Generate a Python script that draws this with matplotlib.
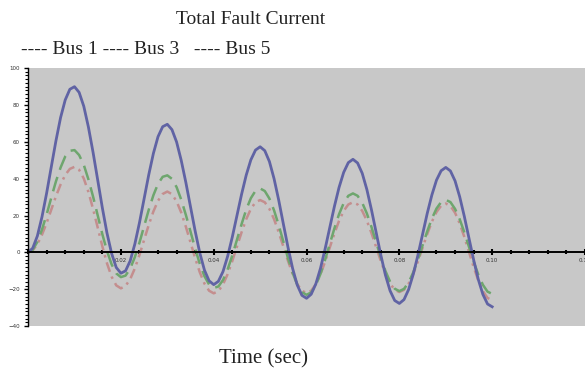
import numpy as np
import matplotlib.pyplot as plt
from matplotlib.ticker import MultipleLocator

time = np.round(np.arange(101) * 0.001, 3)

bus1 = [0, 2.3, 8.9, 19.3, 32.2, 46.4, 60.5, 73.1, 82.7, 88.5,
        89.9, 86.8, 79.3, 68.0, 54.3, 39.3, 24.2, 10.5, -0.6, -8.2,
        -11.3, -10.0, -4.6, 4.5, 16.1, 29.1, 42.1, 53.7, 62.8, 68.2,
        69.5, 66.6, 59.9, 49.9, 37.9, 24.7, 11.6, -0.3, -9.6, -15.4,
        -17.5, -15.7, -10.4, -2.1, 8.3, 19.9, 31.5, 41.9, 50.2, 55.5,
        57.3, 55.2, 49.3, 40.0, 28.4, 15.5, 2.8, -8.7, -17.7, -23.3,
        -24.9, -22.7, -17.1, -8.7, 1.9, 13.4, 24.9, 35.2, 43.4, 48.7,
        50.5, 48.5, 42.9, 34.1, 23.0, 10.8, -1.4, -12.3, -20.8, -26.1,
        -27.7, -25.6, -20.1, -11.8, -1.5, 9.8, 21.1, 31.1, 39.2, 44.3,
        46.1, 44.2, 38.8, 30.2, 19.5, 7.7, -4.0, -14.6, -22.8, -28.0,
        -29.5]

bus3 = [0, 1.4, 5.7, 12.4, 20.6, 29.7, 38.5, 46.0, 52.0, 55.1,
        55.5, 52.8, 47.5, 39.6, 30.3, 20.1, 9.9, 0.8, -6.5, -11.4,
        -13.4, -12.6, -8.8, -2.6, 5.3, 14.2, 23.1, 31.0, 37.2, 41.0,
        41.8, 39.9, 35.4, 28.6, 20.3, 11.3, 2.1, -6.2, -12.9, -17.4,
        -19.3, -18.5, -15.0, -9.2, -1.7, 6.8, 15.3, 23.2, 29.4, 33.4,
        34.7, 33.3, 29.2, 22.8, 14.8, 5.9, -3.1, -11.1, -17.5, -21.6,
        -23.0, -21.7, -17.7, -11.7, -4.0, 4.5, 13.0, 20.7, 26.7, 30.7,
        32.0, 30.7, 26.9, 21.1, 13.7, 5.5, -2.7, -10.1, -15.9, -19.7,
        -21.0, -19.8, -16.3, -10.8, -3.9, 3.8, 11.4, 18.3, 23.8, 27.3,
        28.5, 27.3, 23.6, 18.0, 10.9, 3.0, -4.9, -12.0, -17.6, -21.3,
        -22.5]

bus5 = [0, 1.1, 4.4, 9.6, 16.0, 23.2, 30.4, 36.8, 42.0, 45.3,
        46.4, 44.8, 40.1, 32.8, 23.6, 13.5, 3.3, -5.9, -13.2, -17.9,
        -19.5, -18.2, -14.5, -8.7, -1.4, 6.8, 14.9, 22.2, 28.0, 31.7,
        33.0, 31.6, 27.7, 21.6, 13.9, 5.4, -3.1, -10.8, -16.9, -20.8,
        -22.2, -21.0, -17.4, -11.8, -4.7, 3.1, 10.9, 18.0, 23.6, 27.2,
        28.4, 27.2, 23.6, 18.0, 11.0, 3.2, -4.6, -11.6, -17.2, -20.8,
        -22.0, -20.8, -17.3, -11.9, -5.0, 2.6, 10.2, 17.1, 22.5, 26.0,
        27.2, 26.0, 22.5, 17.2, 10.4, 2.9, -4.7, -11.5, -16.9, -20.3,
        -21.5, -20.3, -16.9, -11.6, -4.9, 2.5, 9.9, 16.6, 21.9, 25.3,
        26.5, 25.2, 21.5, 15.7, 8.4, 0.3, -7.9, -15.2, -21.0, -24.7,
        -26.0]

serif = "Liberation Serif"

fig = plt.figure(figsize=(5.85, 3.74), dpi=100)
ax = fig.add_axes([0.048, 0.128, 0.952, 0.69])
ax.set_facecolor("#c8c8c8")

ax.plot(time, bus5, color="#c48e8e", lw=1.8, ls=(0, (4, 2, 1, 2)))
ax.plot(time, bus3, color="#6ea66e", lw=1.8, ls=(0, (6, 3)))
ax.plot(time, bus1, color="#6063a4", lw=2.0)

ax.set_xlim(0, 0.1185)
ax.set_ylim(-40, 100)

# x axis drawn through zero
ax.spines["bottom"].set_position(("data", 0))
ax.spines["bottom"].set_linewidth(1.4)
ax.spines["top"].set_visible(False)
ax.spines["right"].set_visible(False)
ax.spines["left"].set_linewidth(1.0)

ax.xaxis.set_major_locator(MultipleLocator(0.02))
ax.xaxis.set_minor_locator(MultipleLocator(0.004))
ax.yaxis.set_major_locator(MultipleLocator(20))
ax.yaxis.set_minor_locator(MultipleLocator(2))
ax.tick_params(axis="x", which="major", direction="inout", length=4, width=1.5,
               labelsize=4, pad=2, labelcolor="#333333")
ax.tick_params(axis="x", which="minor", direction="inout", length=3, width=1.5)
ax.tick_params(axis="y", which="major", direction="out", length=3, width=1,
               labelsize=4, pad=3, labelcolor="#333333")
ax.tick_params(axis="y", which="minor", direction="out", length=2, width=0.8)
ax.set_xticks([0.02, 0.04, 0.06, 0.08, 0.10, 0.12])
ax.set_xticklabels(["0.02", "0.04", "0.06", "0.08", "0.10", "0.12"])

fig.text(0.429, 0.947, "Total Fault Current", ha="center", va="center",
         fontsize=14, family=serif, color="#222222")
fig.text(0.036, 0.867, "---- Bus 1 ---- Bus 3   ---- Bus 5", ha="left",
         va="center", fontsize=14, family=serif, color="#222222")
fig.text(0.451, 0.040, "Time (sec)", ha="center", va="center",
         fontsize=15, family=serif, color="#222222")

fig.savefig("out.png", dpi=100)
